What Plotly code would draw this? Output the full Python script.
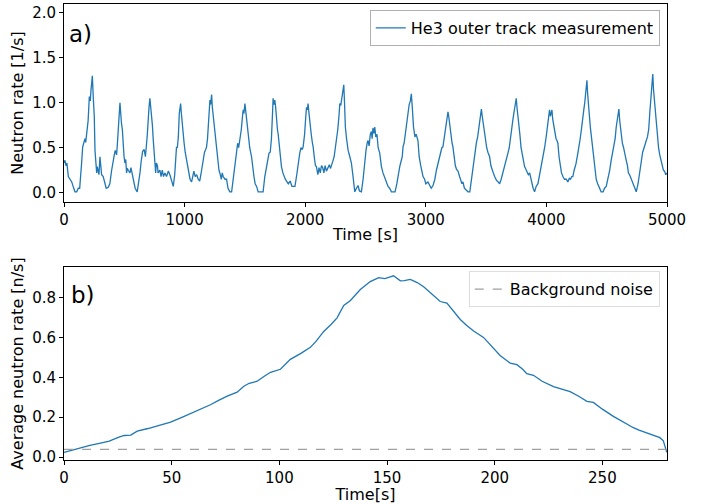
import plotly.graph_objects as go

# ---- Panel a) : He3 outer track measurement (time [s], rate [1/s]) ----
time_a = [
    0, 8, 16, 24, 36, 50, 64, 78, 91, 105, 119, 130, 138, 146, 155, 165, 174, 180, 187, 193, 200, 210, 218, 224, 235, 243, 251, 257, 264, 271, 276, 283, 290, 298, 305, 312, 325, 340, 350, 367, 380, 395,
    405, 417, 425, 436, 443, 450, 457, 464, 470, 476, 484, 491, 498, 505, 512, 519, 525, 533, 547, 555, 562, 575, 590, 607, 618, 630, 640, 652, 665, 675, 690, 699, 705, 712, 718, 725, 733, 740, 747, 754, 760, 766, 775, 780, 795, 805, 815, 825, 837, 850, 865, 878, 890, 906,
    918, 933, 940, 948, 956, 962, 967, 972, 980, 989, 996, 1005, 1016, 1025, 1035, 1045, 1058, 1068, 1077, 1088, 1100, 1113, 1125, 1135,
    1145, 1154, 1165, 1175, 1182, 1190, 1198, 1205, 1210, 1216, 1224, 1230, 1238, 1245, 1252, 1265, 1275, 1285, 1292, 1305, 1312, 1320, 1335, 1348, 1360, 1375, 1390, 1403, 1415,
    1425, 1431, 1440, 1448, 1458, 1470, 1480, 1486, 1492, 1500, 1506, 1512, 1520, 1530, 1540, 1555, 1565, 1575, 1585, 1597, 1610, 1624, 1640, 1651, 1665, 1679,
    1690, 1700, 1710, 1720, 1728, 1734, 1740, 1748, 1755, 1762, 1770, 1776, 1785, 1795, 1803, 1815, 1825, 1835, 1845, 1860, 1875, 1890, 1900, 1915, 1930,
    1945, 1955, 1965, 1975, 1983, 1995, 2005, 2011, 2018, 2024, 2030, 2040, 2050, 2060, 2066, 2075, 2085, 2093, 2105, 2115, 2125, 2135, 2145, 2155, 2165, 2176, 2190, 2200, 2210,
    2220, 2231, 2240, 2248, 2259, 2270, 2280, 2287, 2295, 2305, 2312, 2320, 2326, 2333, 2343, 2356, 2370, 2383, 2395, 2405, 2411, 2425, 2438, 2450, 2466, 2480,
    2494, 2505, 2515, 2521, 2530, 2540, 2549, 2555, 2562, 2570, 2577, 2585, 2595, 2605, 2618, 2632, 2645, 2659, 2670, 2687, 2700, 2715, 2728, 2745, 2760, 2770,
    2784, 2795, 2805, 2811, 2820, 2830, 2842, 2853, 2862, 2872, 2880, 2888, 2898, 2910, 2920, 2935, 2945, 2958, 2968, 2977, 2990, 3000, 3018, 3035, 3045, 3060, 3075, 3088,
    3101, 3115, 3125, 3133, 3142, 3150, 3160, 3170, 3178, 3184, 3190, 3200, 3210, 3218, 3225, 3235, 3245, 3255, 3267, 3280, 3290, 3300, 3308, 3320, 3335, 3350, 3365, 3378,
    3391, 3405, 3412, 3419, 3430, 3440, 3450, 3456, 3461, 3468, 3475, 3485, 3495, 3505, 3515, 3529, 3540, 3550, 3560, 3571, 3585, 3600, 3612, 3625, 3640, 3655,
    3668, 3681, 3692, 3700, 3710, 3722, 3732, 3740, 3750, 3756, 3762, 3770, 3780, 3790, 3800, 3810, 3819, 3830, 3840, 3850, 3861, 3875, 3890, 3902, 3915, 3930, 3945, 3960,
    3971, 3985, 3999, 4010, 4020, 4026, 4033, 4040, 4046, 4052, 4060, 4070, 4080, 4088, 4095, 4105, 4115, 4125, 4137, 4150, 4165, 4178, 4190, 4200, 4210, 4219, 4230, 4245,
    4261, 4270, 4280, 4290, 4302, 4310, 4318, 4325, 4330, 4336, 4342, 4348, 4355, 4365, 4375, 4385, 4395, 4405, 4413, 4425, 4440, 4454, 4470, 4482, 4496, 4510, 4525,
    4537, 4550, 4560, 4570, 4579, 4588, 4595, 4601, 4608, 4615, 4622, 4630, 4640, 4650, 4662, 4672, 4680, 4690, 4703, 4715, 4730, 4745, 4760, 4772,
    4786, 4798, 4810, 4818, 4828, 4838, 4848, 4858, 4865, 4869, 4876, 4882, 4888, 4895, 4902, 4910, 4920, 4930, 4940, 4952, 4962, 4970, 4979, 4990, 5000,
]
rate_a = [
    0.33, 0.36, 0.30, 0.33, 0.18, 0.15, 0.12, 0.06, 0.01, 0.01, 0.05, 0.05, 0.25, 0.33, 0.51, 0.55, 0.60, 0.56, 0.64, 0.70, 0.80, 1.07, 1.02, 1.14, 1.30, 1.05, 0.85, 0.47, 0.35, 0.22, 0.29, 0.25, 0.20, 0.40, 0.33, 0.20, 0.18, 0.09, 0.05, 0.06, 0.10, 0.25,
    0.35, 0.42, 0.47, 0.42, 0.55, 0.66, 0.85, 1.00, 0.85, 0.78, 0.70, 0.48, 0.40, 0.33, 0.37, 0.22, 0.27, 0.25, 0.22, 0.28, 0.24, 0.15, 0.05, 0.01, 0.10, 0.22, 0.35, 0.46, 0.48, 0.40, 0.63, 0.88, 0.95, 1.05, 0.97, 0.93, 0.75, 0.59, 0.45, 0.29, 0.22, 0.33, 0.30, 0.22, 0.25, 0.18, 0.25, 0.18, 0.22, 0.18, 0.24, 0.20, 0.15, 0.07,
    0.20, 0.51, 0.50, 0.62, 0.88, 0.92, 0.99, 0.90, 0.75, 0.63, 0.55, 0.45, 0.36, 0.28, 0.22, 0.15, 0.12, 0.18, 0.24, 0.18, 0.20, 0.15, 0.13, 0.20,
    0.30, 0.36, 0.45, 0.48, 0.51, 0.60, 0.75, 0.90, 1.03, 0.98, 1.09, 0.95, 0.85, 0.70, 0.62, 0.51, 0.35, 0.25, 0.22, 0.15, 0.22, 0.18, 0.15, 0.15, 0.05, 0.01, 0.01, 0.15, 0.30,
    0.45, 0.51, 0.55, 0.50, 0.58, 0.70, 0.85, 0.92, 0.88, 0.99, 0.92, 0.85, 0.73, 0.62, 0.50, 0.40, 0.25, 0.18, 0.10, 0.07, 0.01, 0.01, 0.01, 0.01, 0.18, 0.29,
    0.35, 0.44, 0.45, 0.60, 0.85, 1.05, 0.98, 1.03, 0.95, 0.75, 0.70, 0.65, 0.50, 0.40, 0.29, 0.22, 0.18, 0.15, 0.13, 0.10, 0.13, 0.07, 0.07, 0.07, 0.20,
    0.36, 0.44, 0.50, 0.48, 0.51, 0.65, 0.85, 0.95, 0.92, 0.99, 0.90, 0.73, 0.65, 0.55, 0.51, 0.40, 0.30, 0.29, 0.20, 0.28, 0.22, 0.30, 0.28, 0.22, 0.30, 0.24, 0.28, 0.31, 0.27,
    0.33, 0.36, 0.40, 0.47, 0.55, 0.70, 0.85, 0.99, 0.97, 1.05, 1.10, 1.20, 1.00, 0.73, 0.60, 0.47, 0.40, 0.33, 0.20, 0.10, 0.01, 0.05, 0.08, 0.02, 0.01, 0.15,
    0.36, 0.48, 0.56, 0.58, 0.52, 0.65, 0.68, 0.60, 0.72, 0.66, 0.73, 0.62, 0.65, 0.50, 0.44, 0.29, 0.22, 0.18, 0.13, 0.07, 0.05, 0.01, 0.01, 0.01, 0.10, 0.20,
    0.29, 0.35, 0.40, 0.51, 0.55, 0.65, 0.80, 0.92, 0.98, 1.02, 1.10, 0.95, 0.73, 0.62, 0.65, 0.58, 0.40, 0.30, 0.22, 0.18, 0.15, 0.10, 0.12, 0.08, 0.05, 0.08, 0.15, 0.25,
    0.33, 0.38, 0.45, 0.50, 0.51, 0.58, 0.70, 0.80, 0.86, 0.90, 0.85, 0.73, 0.60, 0.55, 0.51, 0.38, 0.30, 0.26, 0.24, 0.18, 0.15, 0.10, 0.12, 0.05, 0.03, 0.01, 0.01, 0.15,
    0.29, 0.40, 0.45, 0.55, 0.62, 0.70, 0.82, 0.88, 0.93, 0.85, 0.78, 0.65, 0.55, 0.50, 0.45, 0.40, 0.30, 0.25, 0.22, 0.18, 0.14, 0.12, 0.10, 0.15, 0.22, 0.30,
    0.38, 0.44, 0.50, 0.60, 0.65, 0.81, 0.90, 0.95, 1.05, 0.95, 0.85, 0.78, 0.65, 0.50, 0.42, 0.35, 0.29, 0.26, 0.22, 0.20, 0.22, 0.12, 0.05, 0.01, 0.07, 0.10, 0.20, 0.32,
    0.40, 0.50, 0.63, 0.75, 0.85, 0.92, 0.85, 0.88, 0.92, 0.82, 0.75, 0.65, 0.60, 0.58, 0.55, 0.40, 0.30, 0.22, 0.18, 0.15, 0.15, 0.12, 0.16, 0.15, 0.18, 0.18, 0.25, 0.32,
    0.44, 0.50, 0.60, 0.70, 0.88, 0.92, 1.00, 1.08, 1.15, 1.25, 1.10, 0.95, 0.88, 0.72, 0.60, 0.44, 0.35, 0.25, 0.15, 0.10, 0.05, 0.01, 0.01, 0.05, 0.07, 0.15, 0.25,
    0.36, 0.45, 0.50, 0.60, 0.73, 0.82, 0.88, 0.93, 0.80, 0.70, 0.63, 0.55, 0.50, 0.45, 0.36, 0.30, 0.22, 0.20, 0.15, 0.10, 0.05, 0.01, 0.10, 0.22,
    0.36, 0.45, 0.50, 0.55, 0.58, 0.62, 0.70, 0.90, 1.05, 1.17, 1.20, 1.32, 1.15, 1.03, 0.90, 0.75, 0.63, 0.50, 0.42, 0.36, 0.30, 0.25, 0.24, 0.20, 0.22,
]

# ---- Panel b) : average neutron rate over one period ----
time_b = [
    0, 4, 8, 12, 17, 21, 25.5, 28, 31, 34, 39, 44.8, 49.5, 55, 60.3, 65, 68, 72, 75.8, 80.4, 83.5, 86, 89.7, 93, 95.9,
    100.5, 105.1, 110, 114.4, 117, 120.6, 124, 126.8, 129.9, 133, 137.6, 142.2, 146.1, 149, 151.5, 153, 156.2, 158, 160.8,
    164, 167, 171, 174.7, 177.8, 181, 184, 187, 190.2, 194.8, 198, 202.5, 207.2, 210.3, 213, 214.9, 218, 222, 227.3, 231,
    235, 239, 242.8, 245.8, 250, 255.1, 260, 264.4, 267, 270.6, 274, 276.7, 278.3, 279, 279.9,
]
rate_b = [
    0.023, 0.035, 0.048, 0.058, 0.070, 0.080, 0.100, 0.108, 0.110, 0.130, 0.143, 0.160, 0.175, 0.200, 0.225, 0.245, 0.262, 0.285, 0.305, 0.325, 0.355, 0.370, 0.380, 0.405, 0.425,
    0.440, 0.490, 0.520, 0.550, 0.580, 0.630, 0.665, 0.698, 0.760, 0.785, 0.840, 0.880, 0.900, 0.895, 0.904, 0.909, 0.884, 0.885, 0.891,
    0.875, 0.854, 0.815, 0.780, 0.772, 0.730, 0.690, 0.660, 0.632, 0.600, 0.560, 0.509, 0.471, 0.463, 0.440, 0.418, 0.410, 0.380, 0.353, 0.340,
    0.328, 0.305, 0.279, 0.274, 0.240, 0.204, 0.172, 0.147, 0.135, 0.122, 0.108, 0.097, 0.081, 0.060, 0.023,
]
background_level = 0.038
period_end = 280

BLUE = "#1f77b4"
FONT = "DejaVu Sans"
FS = 16
TFS = 15

fig = go.Figure()
fig.add_trace(go.Scatter(x=time_a, y=rate_a, mode="lines", name="He3 outer track measurement",
                         line=dict(color=BLUE, width=1.3), xaxis="x", yaxis="y", legend="legend"))
fig.add_trace(go.Scatter(x=time_b, y=rate_b, mode="lines", showlegend=False,
                         line=dict(color=BLUE, width=1.3), xaxis="x2", yaxis="y2"))
fig.add_trace(go.Scatter(x=[0, period_end], y=[background_level, background_level], mode="lines",
                         name="Background noise", line=dict(color="#a0a0a0", width=1.3, dash="dash"),
                         xaxis="x2", yaxis="y2", legend="legend2"))

axis_common = dict(showline=True, linecolor="black", linewidth=1, mirror=True, ticks="outside",
                   ticklen=4, tickcolor="black", showgrid=False, zeroline=False,
                   tickfont=dict(family=FONT, size=TFS, color="black"), automargin=False)

H_TOP = 0.5658
H_BOT = 0.4232

fig.update_layout(
    width=710, height=504,
    margin=dict(l=64, r=43, t=4, b=44),
    paper_bgcolor="white", plot_bgcolor="white",
    font=dict(family=FONT, size=FS, color="black"),
    xaxis=dict(domain=[0, 1], anchor="y", range=[0, 5000], tickvals=[0, 1000, 2000, 3000, 4000, 5000],
               title=dict(text="Time [s]", font=dict(family=FONT, size=FS), standoff=0), **axis_common),
    yaxis=dict(domain=[H_TOP, 1], anchor="x", range=[-0.103, 2.097], tickvals=[0, 0.5, 1.0, 1.5, 2.0],
               tickformat=".1f",
               title=dict(text="Neutron rate [1/s]", font=dict(family=FONT, size=FS), standoff=4), **axis_common),
    xaxis2=dict(domain=[0, 1], anchor="y2", range=[0, 280], tickvals=[0, 50, 100, 150, 200, 250],
                title=dict(text="Time[s]", font=dict(family=FONT, size=FS), standoff=0), **axis_common),
    yaxis2=dict(domain=[0, H_BOT], anchor="x2", range=[-0.015, 0.953], tickvals=[0, 0.2, 0.4, 0.6, 0.8],
                tickformat=".1f",
                title=dict(text="Average neutron rate [n/s]", font=dict(family=FONT, size=FS), standoff=4), **axis_common),
    legend=dict(x=0.988, y=0.987, xanchor="right", yanchor="top", bgcolor="white",
                bordercolor="#b0b0b0", borderwidth=1, font=dict(family=FONT, size=FS)),
    legend2=dict(x=0.988, y=0.414, xanchor="right", yanchor="top", bgcolor="white",
                 bordercolor="#dddddd", borderwidth=1, font=dict(family=FONT, size=FS)),
    annotations=[
        dict(text="a)", x=0.005, y=0.967, xref="paper", yref="paper", xanchor="left", yanchor="top",
             showarrow=False, font=dict(family=FONT, size=23, color="black")),
        dict(text="b)", x=0.008, y=0.394, xref="paper", yref="paper", xanchor="left", yanchor="top",
             showarrow=False, font=dict(family=FONT, size=23, color="black")),
    ],
)

fig.write_html("out.html", config={"displayModeBar": False},
               post_script="document.body.style.margin='0px'; document.body.style.overflow='hidden';")
